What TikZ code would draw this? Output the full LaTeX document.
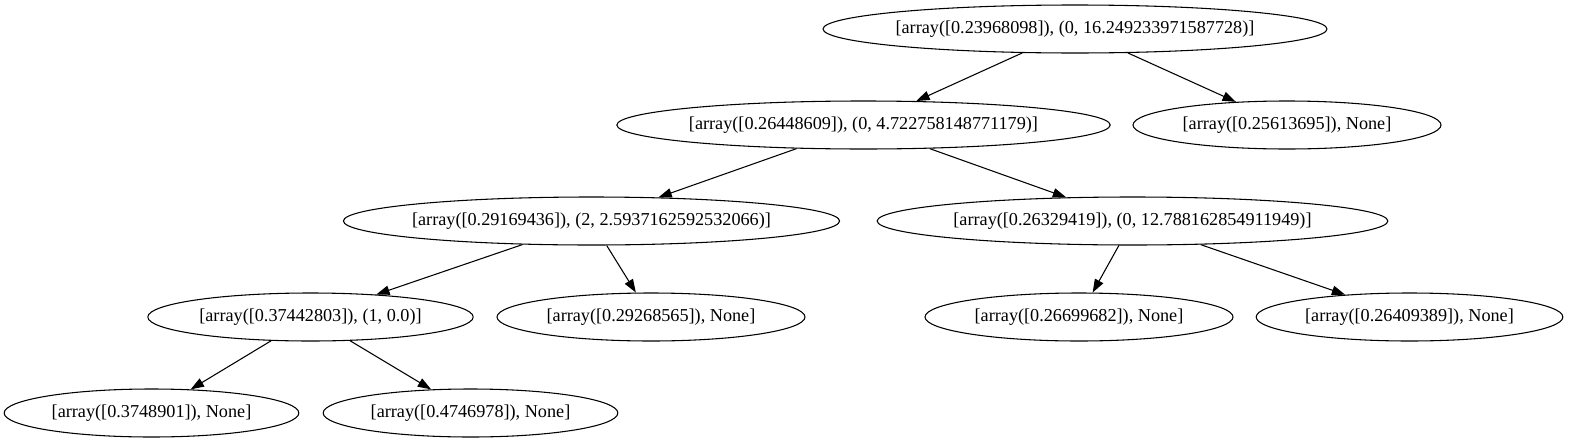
\documentclass[tikz,border=0pt]{standalone}
\usepackage{fontspec}
\setmainfont{Liberation Serif}
\usetikzlibrary{shapes.geometric,arrows.meta}
\begin{document}
\begin{tikzpicture}[x=0.75pt,y=-0.75pt,
  tnode/.style={draw,ellipse,line width=0.8pt,inner ysep=0pt,inner xsep=-3pt,minimum height=36pt,font=\fontsize{13.65pt}{16pt}\selectfont},
  tedge/.style={draw,line width=0.8pt,-{Triangle[length=10pt,width=7pt]}}]
\useasboundingbox (0,0) rectangle (1570,443);
\node[tnode,minimum width=378pt] (r) at (1075,29) {[array([0.23968098]), (0, 16.249233971587728)]};
\node[tnode,minimum width=370pt] (n1) at (863.5,125) {[array([0.26448609]), (0, 4.722758148771179)]};
\node[tnode,minimum width=231pt] (n2) at (1287,125) {[array([0.25613695]), None]};
\node[tnode,minimum width=370pt] (n3) at (591.5,221) {[array([0.29169436]), (2, 2.5937162592532066)]};
\node[tnode,minimum width=383pt] (n4) at (1132.5,221) {[array([0.26329419]), (0, 12.788162854911949)]};
\node[tnode,minimum width=244pt] (n5) at (310.5,317) {[array([0.37442803]), (1, 0.0)]};
\node[tnode,minimum width=231pt] (n6) at (651,317) {[array([0.29268565]), None]};
\node[tnode,minimum width=231pt] (n7) at (1079,317) {[array([0.26699682]), None]};
\node[tnode,minimum width=230pt] (n8) at (1409.5,317) {[array([0.26409389]), None]};
\node[tnode,minimum width=221pt] (n9) at (151.5,413) {[array([0.3748901]), None]};
\node[tnode,minimum width=221pt] (n10) at (470.5,413) {[array([0.4746978]), None]};
\path[tedge] (r) -- (n1);
\path[tedge] (r) -- (n2);
\path[tedge] (n1) -- (n3);
\path[tedge] (n1) -- (n4);
\path[tedge] (n3) -- (n5);
\path[tedge] (n3) -- (n6);
\path[tedge] (n4) -- (n7);
\path[tedge] (n4) -- (n8);
\path[tedge] (n5) -- (n9);
\path[tedge] (n5) -- (n10);
\end{tikzpicture}
\end{document}
